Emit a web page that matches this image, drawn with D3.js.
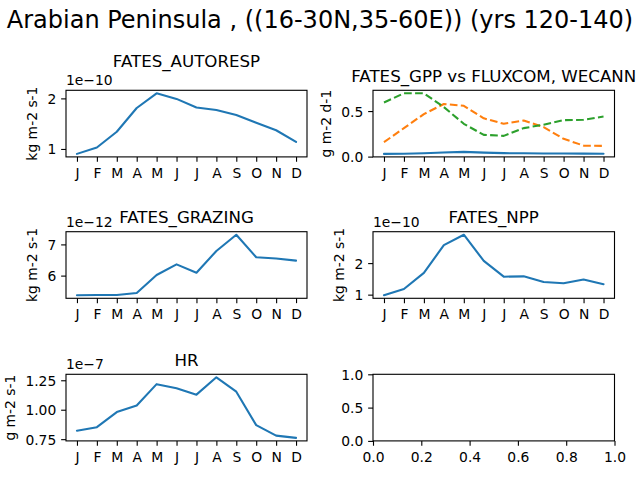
<!DOCTYPE html>
<html>
<head>
<meta charset="utf-8">
<script src="https://cdn.jsdelivr.net/npm/d3@7"></script>
<style>
  html, body { margin: 0; padding: 0; background: #fff; }
  svg { display: block; font-family: "DejaVu Sans", sans-serif; }
</style>
</head>
<body>
<svg id="chart" width="640" height="480"></svg>
<script>
// ---------------- data ----------------
const suptitle = "Arabian Peninsula , ((16-30N,35-60E)) (yrs 120-140)";
const months = ["J","F","M","A","M","J","J","A","S","O","N","D"];

const fatesAutoresp = [0.903e-10,1.03e-10,1.34e-10,1.81e-10,2.10e-10,1.99e-10,1.82e-10,1.77e-10,1.67e-10,1.52e-10,1.37e-10,1.14e-10];
const fatesGpp      = [0.030,0.031,0.036,0.045,0.052,0.044,0.038,0.036,0.035,0.034,0.033,0.032];
const fatesGppHigh  = [0.034,0.036,0.043,0.055,0.062,0.052,0.043,0.040,0.039,0.038,0.037,0.036];
const fluxcomGpp    = [0.158,0.313,0.467,0.578,0.558,0.420,0.360,0.397,0.324,0.195,0.121,0.118];
const wecannGpp     = [0.595,0.695,0.695,0.544,0.360,0.239,0.228,0.313,0.350,0.400,0.404,0.440];
const fatesGrazing  = [5.37e-12,5.38e-12,5.38e-12,5.44e-12,6.02e-12,6.36e-12,6.09e-12,6.79e-12,7.31e-12,6.59e-12,6.55e-12,6.48e-12];
const fatesNpp      = [0.98e-10,1.18e-10,1.69e-10,2.57e-10,2.90e-10,2.07e-10,1.57e-10,1.58e-10,1.40e-10,1.36e-10,1.48e-10,1.33e-10];
const hr            = [0.822e-7,0.852e-7,0.980e-7,1.036e-7,1.217e-7,1.183e-7,1.128e-7,1.275e-7,1.153e-7,0.869e-7,0.780e-7,0.761e-7];

const autorespTicks = [1, 2];
const gppTicks      = [0.0, 0.5];
const grazingTicks  = [6, 7];
const nppTicks      = [1, 2];
const hrTicks       = [0.75, 1.00, 1.25];
const emptyTicksY   = [0.0, 0.5, 1.0];
const emptyTicksX   = [0.0, 0.2, 0.4, 0.6, 0.8, 1.0];

// ---------------- styling / layout ----------------
const C_BLUE = "#1f77b4", C_ORANGE = "#ff7f0e", C_GREEN = "#2ca02c";
const TICK_FS = 13.89, TITLE_FS = 16.67, SUP_FS = 24;
const TICK_LEN = 4.86, LW = 2.08, SPINE_W = 1.11;
const colLeft = [66, 373], colWidth = [241, 241.5];
const rowTop = [90.3, 231.7, 374.3], rowHeight = 66.6;

const panels = [
  { row:0, col:0, title:"FATES_AUTORESP", ylabel:"kg m-2 s-1", exp:-10,
    series:[{values:fatesAutoresp, color:C_BLUE}], yticks:autorespTicks, fmt:d3.format("d") },
  { row:0, col:1, title:"FATES_GPP vs FLUXCOM, WECANN", ylabel:"g m-2 d-1", exp:0,
    band:{lo:fatesGpp, hi:fatesGppHigh, color:C_BLUE},
    series:[{values:fatesGpp, color:C_BLUE},
            {values:fluxcomGpp, color:C_ORANGE, dash:"7.7,3.33"},
            {values:wecannGpp, color:C_GREEN, dash:"7.7,3.33"}],
    yticks:gppTicks, fmt:d3.format(".1f") },
  { row:1, col:0, title:"FATES_GRAZING", ylabel:"kg m-2 s-1", exp:-12,
    series:[{values:fatesGrazing, color:C_BLUE}], yticks:grazingTicks, fmt:d3.format("d") },
  { row:1, col:1, title:"FATES_NPP", ylabel:"kg m-2 s-1", exp:-10,
    series:[{values:fatesNpp, color:C_BLUE}], yticks:nppTicks, fmt:d3.format("d") },
  { row:2, col:0, title:"HR", ylabel:"g m-2 s-1", exp:-7,
    series:[{values:hr, color:C_BLUE}], yticks:hrTicks, fmt:d3.format(".2f") },
  { row:2, col:1, empty:true, yticks:emptyTicksY, xticks:emptyTicksX, fmt:d3.format(".1f") }
];

const svg = d3.select("#chart");

svg.append("text")
  .attr("x", 320).attr("y", 28)
  .attr("text-anchor", "middle")
  .attr("font-size", SUP_FS)
  .attr("fill", "#000")
  .text(suptitle);

function styleAxis(g) {
  g.select(".domain").remove();
  g.selectAll(".tick line").attr("stroke", "#000").attr("stroke-width", SPINE_W);
  g.selectAll(".tick text").attr("font-size", TICK_FS).attr("fill", "#000")
    .attr("font-family", "DejaVu Sans");
}

panels.forEach(p => {
  const left = colLeft[p.col], top = rowTop[p.row];
  const w = colWidth[p.col], h = rowHeight;
  const g = svg.append("g").attr("transform", `translate(${left},${top})`);

  let x, y, xAxis;
  if (p.empty) {
    x = d3.scaleLinear().domain([0, 1]).range([0, w]);
    y = d3.scaleLinear().domain([0, 1]).range([h, 0]);
    xAxis = d3.axisBottom(x).tickValues(p.xticks).tickFormat(d3.format(".1f"));
  } else {
    const scale = Math.pow(10, p.exp);
    const all = [];
    p.series.forEach(s => s.values.forEach(v => all.push(v / scale)));
    const [mn, mx] = d3.extent(all);
    const pad = (mx - mn) * 0.05;
    x = d3.scaleLinear().domain([-0.55, months.length - 1 + 0.55]).range([0, w]);
    y = d3.scaleLinear().domain([mn - pad, mx + pad]).range([h, 0]);
    xAxis = d3.axisBottom(x).tickValues(d3.range(months.length)).tickFormat(i => months[i]);

    if (p.band) {
      const area = d3.area()
        .x((d, i) => x(i))
        .y0((d, i) => y(p.band.lo[i] / scale))
        .y1((d, i) => y(p.band.hi[i] / scale))
        .curve(d3.curveLinear);
      g.append("path").datum(p.band.lo).attr("d", area)
        .attr("fill", p.band.color).attr("fill-opacity", 0.2).attr("stroke", "none");
    }
    const line = d3.line().x((d, i) => x(i)).y(d => y(d / scale));
    p.series.forEach(s => {
      g.append("path").datum(s.values).attr("d", line)
        .attr("fill", "none").attr("stroke", s.color)
        .attr("stroke-width", LW)
        .attr("stroke-linejoin", "round")
        .attr("stroke-linecap", s.dash ? "butt" : "round")
        .attr("stroke-dasharray", s.dash || null);
    });
  }

  const gx = g.append("g").attr("transform", `translate(0,${h})`)
    .call(xAxis.tickSize(TICK_LEN).tickSizeOuter(0).tickPadding(6.3));
  styleAxis(gx);

  const gy = g.append("g")
    .call(d3.axisLeft(y).tickValues(p.yticks).tickFormat(p.fmt)
      .tickSize(TICK_LEN).tickSizeOuter(0).tickPadding(4.86));
  styleAxis(gy);
  gy.selectAll(".tick text").attr("dy", "0.36em");

  // frame
  g.append("rect").attr("x", 0).attr("y", 0).attr("width", w).attr("height", h)
    .attr("fill", "none").attr("stroke", "#000").attr("stroke-width", SPINE_W);

  // y label
  let maxW = 0;
  gy.selectAll(".tick text").each(function() { maxW = Math.max(maxW, this.getComputedTextLength()); });
  if (p.ylabel) {
    const lx = -TICK_LEN - 4.86 - maxW - 10.7;
    g.append("text")
      .attr("transform", `translate(${lx},${h / 2}) rotate(-90)`)
      .attr("text-anchor", "middle")
      .attr("font-size", TICK_FS).attr("fill", "#000")
      .text(p.ylabel);
  }

  // offset text
  let offRight = -1e9;
  if (!p.empty && p.exp !== 0) {
    const ot = g.append("text")
      .attr("x", 0).attr("y", -5)
      .attr("font-size", TICK_FS).attr("fill", "#000")
      .text("1e\u2212" + Math.abs(p.exp));
    offRight = ot.node().getComputedTextLength();
  }

  // title
  if (p.title) {
    const t = g.append("text")
      .attr("x", w / 2).attr("y", -8.33)
      .attr("text-anchor", "middle")
      .attr("font-size", TITLE_FS).attr("fill", "#000")
      .text(p.title);
    const tw = t.node().getComputedTextLength();
    if (w / 2 - tw / 2 < offRight + 4) t.attr("y", -23.3);
  }
});
</script>
</body>
</html>
